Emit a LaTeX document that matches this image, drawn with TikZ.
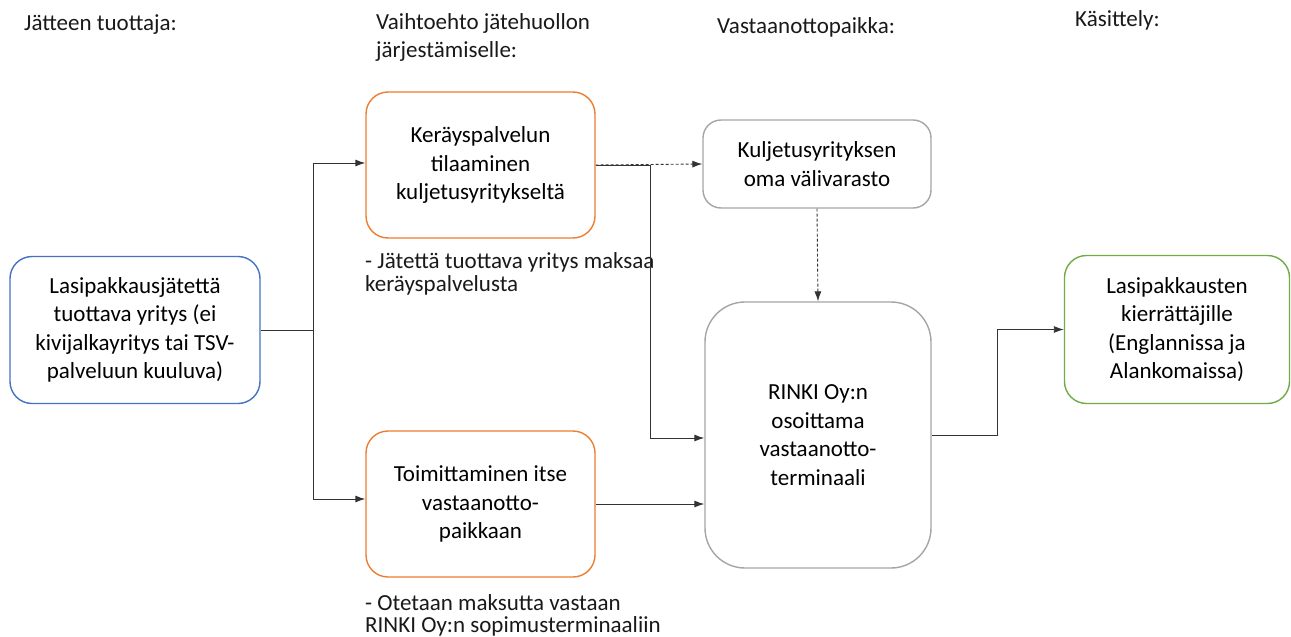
\documentclass[tikz,border=0pt]{standalone}
\usepackage{fontspec}
\setmainfont{Carlito}
\usetikzlibrary{arrows.meta}
\definecolor{cblue}{HTML}{4472C4}
\definecolor{corange}{HTML}{ED7D31}
\definecolor{cgray}{HTML}{A5A5A5}
\definecolor{cgreen}{HTML}{70AD47}
\definecolor{cline}{HTML}{333333}
\tikzset{
  box/.style={draw, line width=1.4pt, rounded corners=22pt, align=center,
    font=\fontsize{23}{28.5}\selectfont, inner sep=0pt, fill=white},
  lbl/.style={anchor=base west, align=left, inner sep=0pt,
    font=\fontsize{23}{24}\selectfont, text=black!90},
  conn/.style={draw=cline, line width=0.9pt, -{Latex[length=10pt,width=7pt]}},
  plain/.style={draw=cline, line width=0.9pt},
  dconn/.style={conn, dash pattern=on 3pt off 2pt}
}
\begin{document}
\begin{tikzpicture}[x=1pt,y=-1pt]
\useasboundingbox (0,0) rectangle (1291,637);
% headings
\node[lbl] (h1) at (24,30) {Jätteen tuottaja:};
\node[lbl] (h2) at (376,29) {Vaihtoehto jätehuollon};
\node[lbl] (h2b) at (376,57) {järjestämiselle:};
\node[lbl] (h3) at (717,34) {Vastaanottopaikka:};
\node[lbl] (h4) at (1075,27) {Käsittely:};
% boxes
\node[box, draw=cblue, minimum width=250pt, minimum height=147pt] (src) at (135,330)
  {Lasipakkausjätettä\\tuottava yritys (ei\\kivijalkayritys tai TSV-\\palveluun kuuluva)};
\node[box, draw=corange, minimum width=229pt, minimum height=146pt] (ot) at (480.5,165)
  {Keräyspalvelun\\tilaaminen\\kuljetusyritykseltä};
\node[box, draw=corange, minimum width=229pt, minimum height=146pt] (ob) at (480.5,504)
  {Toimittaminen itse\\vastaanotto-\\paikkaan};
\node[box, draw=cgray, minimum width=228pt, minimum height=88pt, rounded corners=18pt] (gs) at (817,164)
  {Kuljetusyrityksen\\oma välivarasto};
\node[box, draw=cgray, minimum width=226pt, minimum height=266pt, rounded corners=40pt] (gb) at (818,435)
  {RINKI Oy:n\\osoittama\\vastaanotto-\\terminaali};
\node[box, draw=cgreen, minimum width=225pt, minimum height=148pt] (gr) at (1177,329.5)
  {Lasipakkausten\\kierrättäjille\\(Englannissa ja\\Alankomaissa)};
% notes
\node[lbl] (n1) at (365,268) {- Jätettä tuottava yritys maksaa};
\node[lbl] (n1b) at (365,291) {keräyspalvelusta};
\node[lbl] (n2) at (365,610) {- Otetaan maksutta vastaan};
\node[lbl] (n2b) at (365,632) {RINKI Oy:n sopimusterminaaliin};
% connectors
\coordinate (b1) at (313,330);
\coordinate (j1) at (650,165);
\coordinate (j2) at (997,435);
\draw[plain] (src.east) -- (b1);
\draw[conn] (b1) |- ([yshift=2pt]ot.west);
\draw[conn] (b1) |- ([yshift=5pt]ob.west);
\draw[dconn] (ot.east) -- (gs.west);
\draw[conn] (ot.east) -- (j1) |- ([yshift=-3pt]gb.west);
\draw[conn] (ob.east) -- (ob.east -| gb.west);
\draw[dconn] (gs.south) -- (gb.north);
\draw[conn] (gb.east) -- (j2) |- (gr.west);
\end{tikzpicture}
\end{document}
